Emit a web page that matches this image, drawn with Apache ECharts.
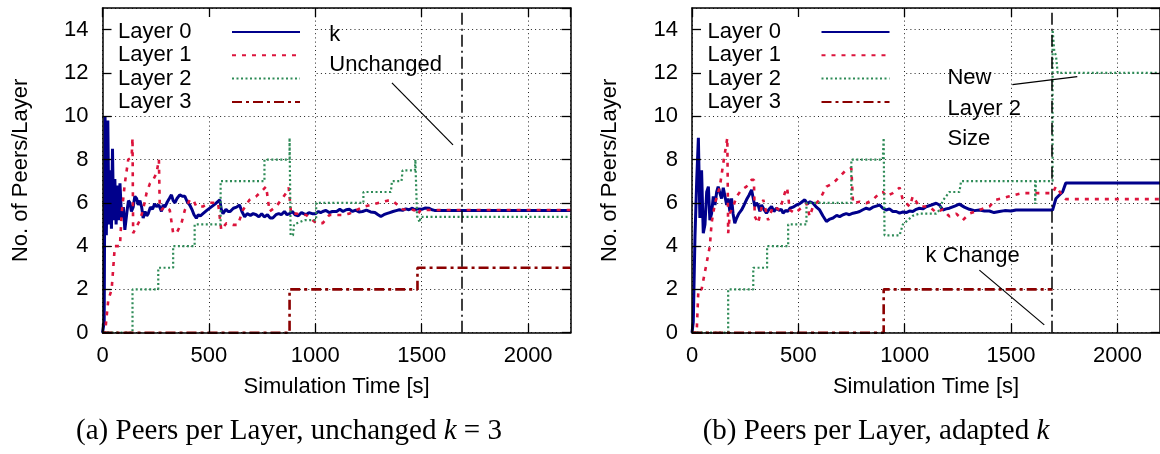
<!DOCTYPE html>
<html><head><meta charset="utf-8">
<script src="https://cdn.jsdelivr.net/npm/echarts@6/dist/echarts.min.js"></script>
<style>html,body{margin:0;padding:0;background:#fff}#c{width:1160px;height:454px}</style>
</head><body><div id="c"></div>
<script>
// ---------------- DATA ----------------
const seriesNames = ['Layer 0', 'Layer 1', 'Layer 2', 'Layer 3'];
const xTicks = [0, 500, 1000, 1500, 2000];
const yTicks = [0, 2, 4, 6, 8, 10, 12, 14];
const xMax = 2200;
const yMax = 15;
const kChangeTime = 1690;

// (a) unchanged k = 3 : [time s, peers]
const a_layer0 = [[0,0],[8,0.5],[12,10],[18,4.5],[25,9.8],[30,5],[36,7.5],[42,4.8],[47,8.5],[52,5.2],[58,7.1],[64,5],[70,6.8],[76,5.2],[82,6.9],[90,5.3],[98,5.8],[105,4.75],[115,5.6],[122,6.1],[129,6.0],[136,5.6],[144,5.8],[152,6.3],[160,6.2],[168,5.9],[176,6.1],[184,5.8],[191,5.3],[200,5.6],[208,5.4],[215,5.5],[225,5.8],[235,5.7],[245,5.95],[254,5.83],[265,5.9],[277,5.6],[285,5.9],[293,5.8],[305,6.05],[314,6.2],[324,6.37],[332,6.1],[340,6.0],[350,6.2],[363,6.37],[375,6.3],[387,6.3],[398,6.05],[410,5.9],[420,5.7],[430,5.45],[441,5.29],[450,5.45],[460,5.4],[472,5.5],[490,5.65],[510,5.8],[530,5.95],[551,6.14],[558,5.7],[566,5.5],[580,5.7],[590,5.6],[600,5.6],[615,5.75],[630,5.8],[644,5.9],[655,5.6],[668,5.36],[680,5.5],[695,5.42],[708,5.5],[722,5.45],[735,5.35],[748,5.5],[760,5.35],[775,5.45],[788,5.3],[800,5.3],[815,5.45],[828,5.5],[840,5.45],[855,5.6],[867,5.45],[879,5.5],[892,5.6],[905,5.45],[920,5.4],[935,5.55],[945,5.5],[957,5.45],[970,5.55],[985,5.5],[1000,5.5],[1015,5.6],[1025,5.55],[1035,5.6],[1050,5.65],[1065,5.55],[1080,5.6],[1100,5.6],[1115,5.7],[1130,5.6],[1145,5.68],[1160,5.7],[1175,5.6],[1190,5.66],[1205,5.58],[1222,5.6],[1240,5.66],[1260,5.58],[1280,5.55],[1295,5.45],[1308,5.37],[1322,5.45],[1335,5.5],[1350,5.55],[1365,5.6],[1380,5.64],[1395,5.68],[1410,5.65],[1425,5.72],[1440,5.68],[1456,5.75],[1468,5.68],[1480,5.72],[1500,5.7],[1515,5.76],[1535,5.75],[1548,5.68],[1560,5.65],[2200,5.65]];
const a_layer1 = [[0,0],[12,0],[27,1.5],[43,2],[58,4],[82,4],[90,5.5],[105,6.9],[121,8],[137,8.1],[141,9],[144,4.6],[160,4.9],[176,5.2],[191,5.7],[207,6.45],[223,6.9],[238,7.06],[254,7.37],[265,8],[269,5.83],[277,5.67],[293,5.83],[316,5.67],[332,4.6],[348,4.6],[371,5.06],[387,5.67],[410,6.14],[426,6.14],[441,5.83],[472,5.83],[504,6.0],[543,6.0],[558,4.75],[582,5.06],[613,4.98],[636,4.98],[660,5.67],[691,6.14],[722,6.3],[754,6.6],[769,6.75],[785,5.6],[816,5.83],[840,6.14],[863,6.45],[875,6.7],[886,5.5],[910,5.5],[957,5.44],[1004,5.06],[1035,5.06],[1066,5.44],[1129,5.44],[1160,5.5],[1222,5.8],[1300,6.0],[1339,6.1],[1363,6.1],[1410,5.7],[1464,5.67],[1480,5.45],[1495,5.67],[2200,5.67]];
const a_layer2 = [[0,0],[141,0],[141,2],[262,2],[262,3],[332,3],[332,4],[433,4],[433,5],[555,5],[555,7],[761,7],[761,8],[879,8],[879,9],[884,9],[884,4.5],[895,4.5],[900,5.0],[950,5.2],[1004,5.2],[1004,6],[1226,6],[1226,6.5],[1355,6.5],[1360,7],[1405,7],[1410,7.5],[1468,7.5],[1470,8],[1476,8],[1478,5.4],[1490,5.1],[1495,5.35],[2200,5.35]];
const a_layer3 = [[0,0],[879,0],[879,2],[1480,2],[1480,3],[2200,3]];

// (b) adapted k : [time s, peers]
const b_layer0 = [[0,0],[6,0.5],[14,4.44],[22,7],[30,9],[37,5.3],[45,7.5],[53,4.6],[61,5.0],[69,6.5],[77,6.75],[84,5.2],[92,5.5],[100,6.3],[108,5.9],[116,6.5],[123,6.75],[131,6.45],[139,6.2],[147,6.7],[155,6.7],[163,5.9],[170,6.2],[178,5.6],[186,6.2],[193,5.5],[201,5.06],[210,5.3],[220,5.5],[233,5.67],[245,5.9],[256,6.14],[268,6.35],[280,6.6],[288,6.2],[295,5.83],[303,6.0],[311,5.9],[319,5.6],[327,5.9],[338,5.7],[350,5.52],[362,5.7],[374,5.83],[385,5.6],[397,5.75],[410,5.65],[420,5.7],[428,5.52],[440,5.65],[450,5.6],[460,5.75],[475,5.8],[491,5.9],[505,5.95],[518,6.05],[530,6.14],[542,5.95],[555,6.05],[569,5.98],[585,5.8],[600,5.67],[615,5.4],[632,5.14],[648,5.25],[663,5.3],[680,5.42],[694,5.36],[710,5.45],[725,5.5],[740,5.45],[757,5.52],[772,5.55],[788,5.6],[803,5.68],[819,5.75],[835,5.7],[850,5.8],[866,5.85],[882,5.9],[897,5.75],[913,5.67],[928,5.72],[944,5.6],[960,5.6],[976,5.52],[992,5.58],[1007,5.55],[1022,5.62],[1038,5.6],[1054,5.7],[1069,5.75],[1085,5.72],[1101,5.82],[1125,5.9],[1148,5.98],[1163,5.9],[1179,5.67],[1195,5.72],[1210,5.75],[1235,5.85],[1257,5.94],[1280,5.8],[1304,5.7],[1328,5.64],[1351,5.67],[1375,5.62],[1398,5.62],[1420,5.55],[1445,5.6],[1470,5.64],[1500,5.62],[1523,5.67],[1554,5.67],[1695,5.67],[1711,6.2],[1726,6.35],[1742,6.5],[1757,6.91],[2200,6.91]];
const b_layer1 = [[0,0],[22,0],[30,2],[45,2],[84,4],[92,5.06],[108,5.98],[131,6.75],[147,7.83],[166,9],[170,4.6],[178,5.52],[194,5.83],[210,6.3],[233,6.6],[256,6.75],[280,7.06],[291,7.06],[295,5.37],[311,5.06],[335,6.14],[358,5.2],[381,5.83],[413,5.67],[436,6.45],[447,6.7],[460,5.67],[483,5.52],[522,5.83],[538,5.98],[553,5.37],[569,5.83],[600,6.14],[632,6.75],[663,6.9],[694,7.21],[725,7.52],[749,7.6],[757,5.98],[788,6.05],[819,5.98],[850,6.14],[882,6.45],[897,6.5],[913,6.3],[944,6.45],[976,6.7],[991,6.14],[1023,5.83],[1038,6.3],[1069,5.83],[1116,5.83],[1148,5.55],[1179,5.7],[1210,5.37],[1242,5.5],[1273,5.2],[1304,5.5],[1351,5.67],[1398,5.83],[1429,6.14],[1492,6.3],[1554,6.45],[1695,6.45],[1711,6.76],[1726,6.55],[1742,6.3],[1757,6.17],[2200,6.17]];
const b_layer2 = [[0,0],[170,0],[170,2],[288,2],[288,3],[353,3],[353,4],[452,4],[452,5],[538,5],[538,6],[749,6],[749,8],[897,8],[901,9],[905,4.5],[976,4.5],[991,5],[1038,5.4],[1069,5.5],[1148,5.5],[1163,5.67],[1179,6.1],[1210,6.5],[1257,6.5],[1265,7],[1613,7],[1613,5.95],[1617,7],[1695,7],[1695,14],[1703,13],[1711,12.8],[1719,12],[2200,12]];
const b_layer3 = [[0,0],[901,0],[901,2],[1695,2]];

// annotations: [time, value, text]
const a_notes = [[1066, 13.77, 'k'], [1066, 12.38, 'Unchanged']];
const a_pointer = [[1360, 11.54], [1647, 8.68]];
const b_notes = [[1201, 11.78, 'New'], [1201, 10.34, 'Layer 2'], [1201, 8.96, 'Size'], [1098, 3.55, 'k Change']];
const b_pointers = [[[1506, 11.46], [1811, 11.83]], [[1351, 2.89], [1656, 0.36]]];

const captions = ['(a) Peers per Layer, unchanged {i|k} = 3', '(b) Peers per Layer, adapted {i|k}'];
const xTitle = 'Simulation Time [s]';
const yTitle = 'No. of Peers/Layer';

// ---------------- STYLE ----------------
const FONT = 'Liberation Sans';
const FS = 22;
const colors = ['#00008b', '#dc143c', '#2e8b57', '#8b0000'];
const dashes = ['solid', [4, 6], [2, 2.5], [10, 4, 3, 4]];
const widths = [3, 2.6, 2.2, 2.6];

const panels = [
  { left: 102.5, width: 468.2, data: [a_layer0, a_layer1, a_layer2, a_layer3], notes: a_notes, pointers: [a_pointer], capX: 289 },
  { left: 692, width: 469, data: [b_layer0, b_layer1, b_layer2, b_layer3], notes: b_notes, pointers: b_pointers, capX: 876 }
];

const xInterval = xTicks[1] - xTicks[0];
const yInterval = yTicks[1] - yTicks[0];

const grid = [], xAxis = [], yAxis = [], series = [], legend = [], graphic = [];
const frameLine = { show: true, onZero: false, lineStyle: { color: '#000', width: 1.5 } };
const tick = { show: true, inside: true, length: 9, lineStyle: { color: '#000', width: 1.3 } };
const gridLine = { show: true, lineStyle: { color: '#222', type: [1, 3.2], width: 1 } };
const label = { show: true, color: '#000', fontSize: FS, fontFamily: FONT, showMaxLabel: false, formatter: v => String(v) };

panels.forEach((p, gi) => {
  grid.push({ left: p.left, width: p.width, top: 8, height: 324.7, containLabel: false });
  const xb = { gridIndex: gi, type: 'value', min: xTicks[0], max: xMax, interval: xInterval };
  const yb = { gridIndex: gi, type: 'value', min: yTicks[0], max: yMax, interval: yInterval };
  xAxis.push(Object.assign({}, xb, { position: 'bottom', z: 10, axisLine: frameLine, axisTick: tick,
    axisLabel: Object.assign({}, label, { margin: 12 }), splitLine: { show: false },
    name: xTitle, nameLocation: 'middle', nameGap: 43,
    nameTextStyle: { color: '#000', fontSize: FS, fontFamily: FONT } }));
  yAxis.push(Object.assign({}, yb, { position: 'left', z: 10, axisLine: frameLine, axisTick: tick,
    axisLabel: Object.assign({}, label, { margin: 14 }), splitLine: { show: false },
    name: yTitle, nameLocation: 'middle', nameGap: 71,
    nameTextStyle: { color: '#000', fontSize: FS, fontFamily: FONT } }));
  xAxis.push(Object.assign({}, xb, { position: 'top', z: 10, axisLine: frameLine, axisTick: tick,
    axisLabel: { show: false }, splitLine: { show: false } }));
  yAxis.push(Object.assign({}, yb, { position: 'right', z: 10, axisLine: frameLine, axisTick: tick,
    axisLabel: { show: false }, splitLine: { show: false } }));
  xAxis.push(Object.assign({}, xb, { z: 0, axisLine: { show: false, onZero: false }, axisTick: { show: false },
    axisLabel: { show: false }, splitLine: gridLine }));
  yAxis.push(Object.assign({}, yb, { z: 0, axisLine: { show: false, onZero: false }, axisTick: { show: false },
    axisLabel: { show: false }, splitLine: gridLine }));

  const xi = gi * 3, yi = gi * 3;
  p.data.forEach((d, si) => {
    const s = {
      type: 'line', name: seriesNames[si], xAxisIndex: xi, yAxisIndex: yi,
      data: d, symbol: 'none', showSymbol: false, clip: false, z: 2, smooth: false,
      lineStyle: { color: colors[si], width: widths[si], type: dashes[si] },
      itemStyle: { color: colors[si] },
      emphasis: { disabled: true }
    };
    if (si === 3) {
      const mlData = [{ xAxis: kChangeTime, lineStyle: { color: '#000', type: [12, 4, 2, 4], width: 1.5 } }];
      p.pointers.forEach(pt => mlData.push([
        { coord: pt[0], lineStyle: { color: '#000', type: 'solid', width: 1.2 } },
        { coord: pt[1] }
      ]));
      s.markLine = { silent: true, symbol: ['none', 'none'], label: { show: false }, animation: false, data: mlData };
      s.markPoint = {
        silent: true, symbol: 'circle', symbolSize: 0, animation: false,
        label: { show: true, position: 'right', distance: 0, color: '#000', fontSize: FS, fontFamily: FONT },
        data: p.notes.map(n => ({ coord: [n[0], n[1]], label: { formatter: n[2] } }))
      };
    }
    series.push(s);
  });

  legend.push({
    orient: 'vertical', left: p.left + 1.5, top: 9, align: 'right',
    padding: [12, 13, 1, 14], backgroundColor: '#fff', z: 4,
    itemWidth: 68, itemHeight: 14, itemGap: 1.3, selectedMode: false,
    itemStyle: { color: 'rgba(0,0,0,0)', borderColor: 'rgba(0,0,0,0)', borderWidth: 0, opacity: 0 },
    data: seriesNames.slice(),
    formatter: '{t|{name}}',
    textStyle: { color: '#000', fontSize: FS, fontFamily: FONT, lineHeight: 22,
      rich: { t: { width: 109, align: 'left', color: '#000', fontSize: FS, fontFamily: FONT, lineHeight: 22 } } }
  });

  graphic.push({
    type: 'text', x: p.capX, y: 431,
    style: {
      text: captions[gi], fill: '#000', font: '29px "Liberation Serif"',
      align: 'center', verticalAlign: 'middle',
      rich: { i: { fontStyle: 'italic', fontSize: 29, fontFamily: 'Liberation Serif' } }
    }
  });
});

const chart = echarts.init(document.getElementById('c'), null, { renderer: 'canvas' });
chart.setOption({
  animation: false,
  backgroundColor: '#fff',
  grid, xAxis, yAxis, series, legend, graphic
});
</script>
</body></html>
